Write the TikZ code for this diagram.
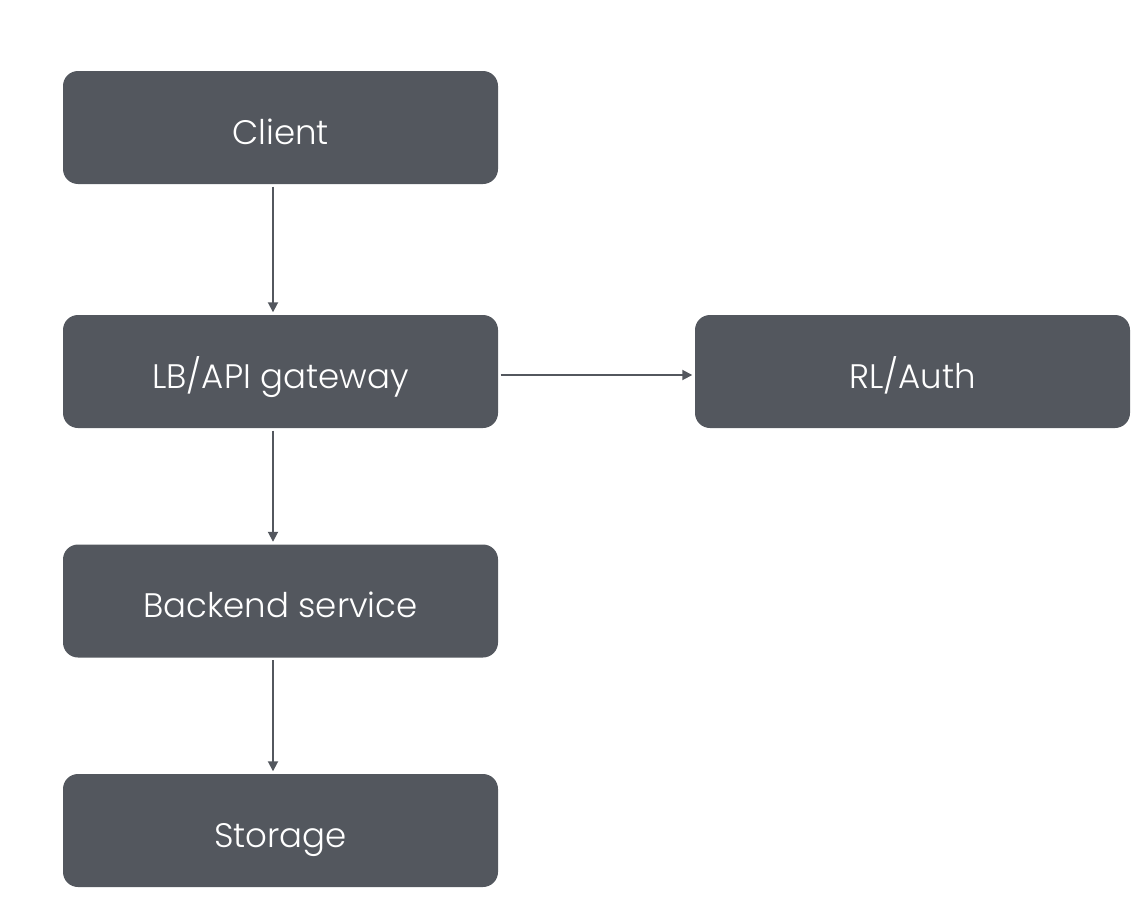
\documentclass[tikz,border=0pt]{standalone}
\usepackage{fontspec}
\setmainfont{Poppins}[UprightFont=* Light]
\usetikzlibrary{arrows.meta}
\definecolor{boxgray}{HTML}{53575E}
\definecolor{linegray}{HTML}{53575E}
\begin{document}
\begin{tikzpicture}[x=1pt,y=-1pt,
  box/.style={draw=none,fill=boxgray,rounded corners=15pt,minimum width=435pt,minimum height=113pt,inner sep=0pt,text=white,text height=33pt,text depth=0pt,font=\fontsize{34}{40}\selectfont},
  conn/.style={draw=linegray,line width=1.8pt,-{Triangle[width=10pt,length=10pt]},shorten >=2.5pt,shorten <=2.5pt}]
\useasboundingbox (0,0) rectangle (1144,918);
\node[box] (client) at (280.5,127.5) {Client};
\node[box] (lb) at (280.5,371.5) {LB/API gateway};
\node[box] (rl) at (912.5,371.5) {RL/Auth};
\node[box] (backend) at (280.5,601) {Backend service};
\node[box] (storage) at (280.5,830.5) {Storage};
\draw[conn] ([xshift=-7.5pt]client.south) -- ([xshift=-7.5pt]lb.north);
\draw[conn] ([yshift=-3.5pt]lb.east) -- ([yshift=-3.5pt]rl.west);
\draw[conn] ([xshift=-7.5pt]lb.south) -- ([xshift=-7.5pt]backend.north);
\draw[conn] ([xshift=-7.5pt]backend.south) -- ([xshift=-7.5pt]storage.north);
\end{tikzpicture}
\end{document}
